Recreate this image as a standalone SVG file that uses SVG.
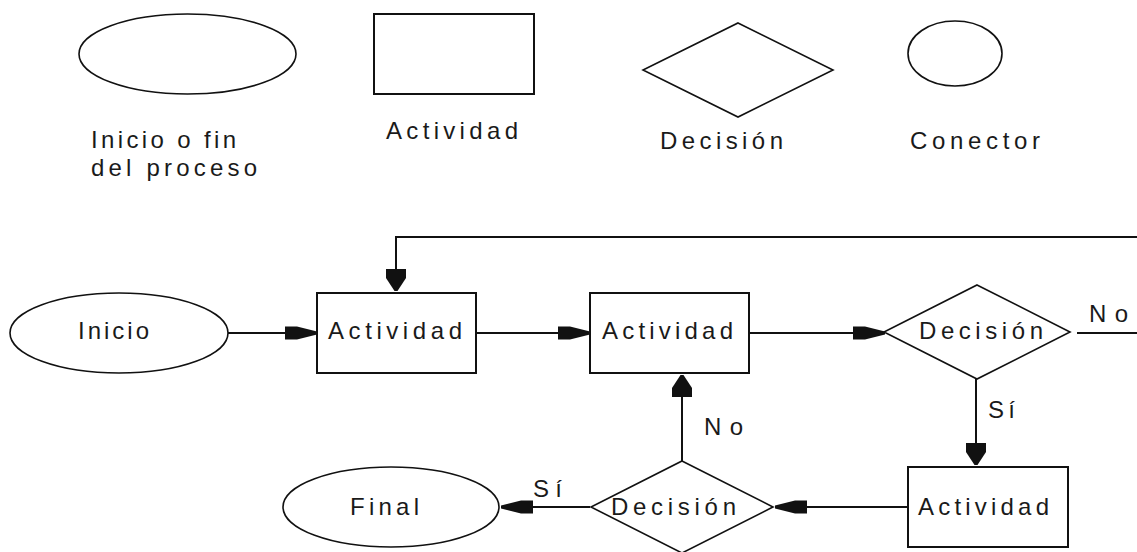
<svg xmlns="http://www.w3.org/2000/svg" xmlns:xlink="http://www.w3.org/1999/xlink" width="1137" height="552" viewBox="0 0 1137 552">
  <style>
    .shape { fill: #ffffff; stroke: #111111; stroke-width: 1.6; }
    .box { fill: #ffffff; stroke: #111111; stroke-width: 2; }
    .wire { fill: none; stroke: #111111; stroke-width: 2; }
    .head { fill: #111111; stroke: none; }
    text { font-family: "Liberation Sans", Arial, sans-serif; font-size: 24px; fill: #1a1a1a; }
  </style>
  <defs>
    <!-- arrowhead for horizontal runs, tip at the origin, pointing right -->
    <path id="ah" class="head" d="M-32,-6.5 H-20 L0,-1.5 V1.5 L-20,6.5 H-32 Z"/>
    <!-- arrowhead for vertical runs, tip at the origin, pointing down -->
    <path id="av" class="head" d="M-10,-22 H10 V-13 L1.5,0 H-1.5 L-10,-13 Z"/>
  </defs>
  <rect width="1137" height="552" fill="#ffffff"/>

  <!-- legend -->
  <g id="legend-terminal">
    <ellipse class="shape" cx="187.5" cy="54" rx="108.5" ry="40"/>
    <text x="91" y="148" textLength="145" lengthAdjust="spacing">Inicio o fin</text>
    <text x="91" y="176" textLength="166" lengthAdjust="spacing">del proceso</text>
  </g>
  <g id="legend-activity">
    <rect class="box" x="374" y="14" width="160" height="80"/>
    <text x="386" y="139" textLength="132" lengthAdjust="spacing">Actividad</text>
  </g>
  <g id="legend-decision">
    <polygon class="shape" points="738,23 833,70 738,117 643,70"/>
    <text x="660" y="149" textLength="123" lengthAdjust="spacing">Decisión</text>
  </g>
  <g id="legend-connector">
    <ellipse class="shape" cx="955" cy="53.5" rx="47" ry="32.5"/>
    <text x="910" y="149" textLength="130" lengthAdjust="spacing">Conector</text>
  </g>

  <!-- flow -->
  <g id="connectors">
    <path class="wire" d="M228,333 H300"/>
    <use xlink:href="#ah" transform="translate(317,333)"/>
    <path class="wire" d="M476,333 H572"/>
    <use xlink:href="#ah" transform="translate(590,333)"/>
    <path class="wire" d="M749,333 H867"/>
    <use xlink:href="#ah" transform="translate(885,333)"/>
    <path class="wire" d="M1077,333 H1137"/>
    <path class="wire" d="M1137,237 H396 V275"/>
    <use xlink:href="#av" transform="translate(396,291)"/>
    <path class="wire" d="M976,379 V450"/>
    <use xlink:href="#av" transform="translate(976,465)"/>
    <path class="wire" d="M908,507 H790"/>
    <use xlink:href="#ah" transform="translate(775,507) scale(-1,1)"/>
    <path class="wire" d="M682,461 V390"/>
    <use xlink:href="#av" transform="translate(682,375) scale(1,-1)"/>
    <path class="wire" d="M590,507 H515"/>
    <use xlink:href="#ah" transform="translate(501,507) scale(-1,1)"/>
    <text x="1089" y="322" textLength="39" lengthAdjust="spacing">No</text>
    <text x="988" y="418" textLength="27" lengthAdjust="spacing">Sí</text>
    <text x="704" y="435" textLength="39" lengthAdjust="spacing">No</text>
    <text x="533" y="497" textLength="29" lengthAdjust="spacing">Sí</text>
  </g>

  <g id="start">
    <ellipse class="shape" cx="119" cy="333" rx="109" ry="40"/>
    <text x="78" y="339" textLength="71" lengthAdjust="spacing">Inicio</text>
  </g>
  <g id="activity-1">
    <rect class="box" x="317" y="293" width="159" height="80"/>
    <text x="328" y="339" textLength="134" lengthAdjust="spacing">Actividad</text>
  </g>
  <g id="activity-2">
    <rect class="box" x="590" y="293" width="159" height="80"/>
    <text x="602" y="339" textLength="131" lengthAdjust="spacing">Actividad</text>
  </g>
  <g id="decision-1">
    <polygon class="shape" points="977,285 1070,332 977,379 884,332"/>
    <text x="919" y="339" textLength="124" lengthAdjust="spacing">Decisión</text>
  </g>
  <g id="activity-3">
    <rect class="box" x="908" y="467" width="160" height="80"/>
    <text x="918" y="515" textLength="131" lengthAdjust="spacing">Actividad</text>
  </g>
  <g id="decision-2">
    <polygon class="shape" points="682,461 773,507 682,553 591,507"/>
    <text x="611" y="515" textLength="125" lengthAdjust="spacing">Decisión</text>
  </g>
  <g id="end">
    <ellipse class="shape" cx="391" cy="507" rx="108" ry="40"/>
    <text x="350" y="515" textLength="69" lengthAdjust="spacing">Final</text>
  </g>
</svg>
